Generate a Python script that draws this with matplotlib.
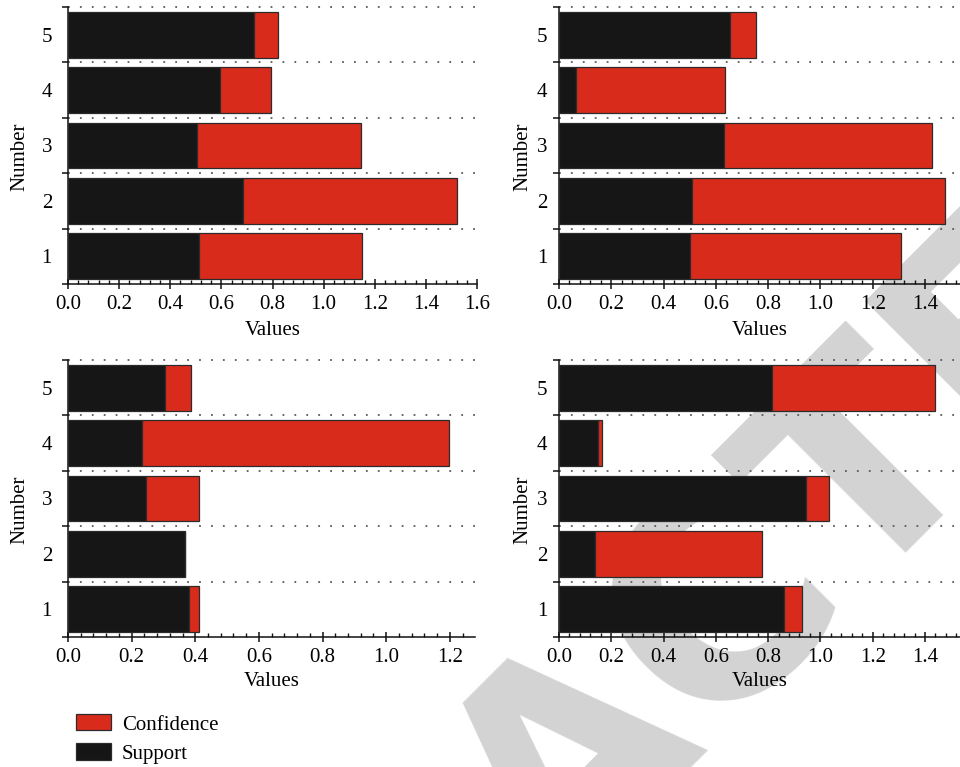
import matplotlib
matplotlib.use("Agg")
import matplotlib.pyplot as plt
from matplotlib.ticker import MultipleLocator, FixedLocator, NullFormatter
from matplotlib.patches import Patch

plt.rcParams["font.family"] = ["Liberation Serif", "DejaVu Serif"]

numbers = [1, 2, 3, 4, 5]

support_a = [0.511, 0.683, 0.504, 0.594, 0.729]
confidence_a = [0.639, 0.837, 0.642, 0.201, 0.092]

support_b = [0.502, 0.510, 0.630, 0.064, 0.653]
confidence_b = [0.808, 0.966, 0.798, 0.570, 0.101]

support_c = [0.379, 0.368, 0.246, 0.232, 0.305]
confidence_c = [0.034, 0.0, 0.166, 0.966, 0.083]

support_d = [0.859, 0.138, 0.946, 0.149, 0.816]
confidence_d = [0.071, 0.637, 0.088, 0.014, 0.621]

RED = "#d92b1c"
BLACK = "#161616"
EDGE = "#2b2b2b"
FS = 15

W, H = 960, 767
fig = plt.figure(figsize=(W / 100, H / 100), dpi=100)

# diagonal stamp behind the panels
fig.text(627 / W, 1 - 806 / H, "RETRACTED", fontsize=204, fontweight="bold",
         family="DejaVu Sans", color="#d3d3d3", rotation=45,
         rotation_mode="anchor", ha="center", va="baseline", zorder=-5)


def px_axes(x0, x1, y_top, y_bot):
    return fig.add_axes([x0 / W, 1 - y_bot / H, (x1 - x0) / W, (y_bot - y_top) / H])


panels = [
    (px_axes(68, 477, 7, 284), support_a, confidence_a, 1.6, -0.135, -0.095, 11.5),
    (px_axes(559, 960, 7, 284), support_b, confidence_b, 1.534, -0.135, -0.066, 8.5),
    (px_axes(68, 475, 360, 637), support_c, confidence_c, 1.279, -0.125, -0.095, 11.5),
    (px_axes(559, 960, 360, 637), support_d, confidence_d, 1.534, -0.125, -0.066, 8.5),
]

for ax, sup, conf, xmax, xlab_y, ylab_x, ypad in panels:
    ax.set_facecolor("none")
    ax.barh(numbers, sup, height=0.83, color=BLACK, edgecolor=EDGE,
            linewidth=0.9, zorder=3, label="Support")
    ax.barh(numbers, conf, left=sup, height=0.83, color=RED, edgecolor=EDGE,
            linewidth=0.9, zorder=3, label="Confidence")

    ax.set_xlim(0, xmax)
    ax.set_ylim(0.5, 5.5)

    # dotted separators between the rows
    for yb in [1.5, 2.5, 3.5, 4.5, 5.5]:
        ax.axhline(yb, color="#5a5a5a", linewidth=1.3,
                   linestyle=(0, (1, 5.6)), zorder=1, clip_on=False)

    for side in ("top", "right"):
        ax.spines[side].set_visible(False)
    for side in ("left", "bottom"):
        ax.spines[side].set_linewidth(1.1)
        ax.spines[side].set_color("#111111")

    ax.set_yticks(numbers)
    ax.yaxis.set_minor_locator(FixedLocator([0.5, 1.5, 2.5, 3.5, 4.5, 5.5]))
    ax.yaxis.set_minor_formatter(NullFormatter())
    ax.tick_params(axis="y", which="major", length=0, pad=ypad, labelsize=FS)
    ax.tick_params(axis="y", which="minor", direction="out", length=4,
                   width=1.1, color="#111111")

    ax.xaxis.set_major_locator(MultipleLocator(0.2))
    ax.xaxis.set_minor_locator(MultipleLocator(0.04))
    ax.xaxis.set_major_formatter(lambda v, p: f"{v:.1f}")
    ax.tick_params(axis="x", which="major", direction="inout", length=7,
                   width=1.1, pad=4.5, labelsize=FS, color="#111111")
    ax.tick_params(axis="x", which="minor", direction="in", length=3,
                   width=1.0, color="#111111")

    ax.set_xlabel("Values", fontsize=FS)
    ax.xaxis.set_label_coords(0.5, xlab_y)
    ax.xaxis.label.set_va("top")
    ax.set_ylabel("Number", fontsize=FS)
    ax.yaxis.set_label_coords(ylab_x, 0.46)

handles = [Patch(facecolor=RED, edgecolor=EDGE, linewidth=0.9),
           Patch(facecolor=BLACK, edgecolor=EDGE, linewidth=0.9)]
fig.legend(handles, ["Confidence", "Support"], loc="upper left",
           bbox_to_anchor=(70 / W, 1 - 708 / H), frameon=False, fontsize=FS,
           handlelength=1.68, handleheight=0.82, handletextpad=0.5,
           labelspacing=0.42, borderaxespad=0, borderpad=0.3)

fig.savefig("out.png", dpi=100)
